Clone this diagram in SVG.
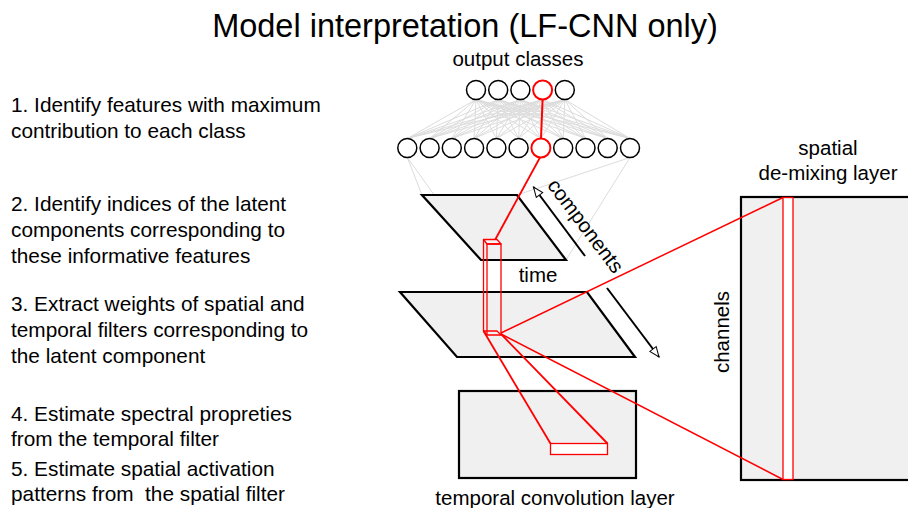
<svg xmlns="http://www.w3.org/2000/svg" width="908" height="508" viewBox="0 0 908 508">
<style>
text{font-family:"Liberation Sans",Arial,sans-serif;fill:#000}
.t{font-size:20.5px}
.s{font-size:20.8px;white-space:pre}
.c{text-anchor:middle}
.fc{stroke:#dcdcdc;stroke-width:1;fill:none}
.nd{fill:#fff;stroke:#000;stroke-width:1.5}
.ndr{fill:#fff;stroke:#f00;stroke-width:2}
.pl{fill:#f0f0f0;stroke:#000;stroke-width:2.2;stroke-linejoin:miter}
.rl{stroke:#f00;stroke-width:1.5;fill:none}
.rb{stroke:#f00;stroke-width:1.3;fill:#fff}
.ar{stroke:#000;stroke-width:2;fill:none}
</style>
<defs>
<marker id="oa" viewBox="0 0 12 10" refX="11" refY="5" markerWidth="12" markerHeight="10" markerUnits="userSpaceOnUse" orient="auto">
<path d="M1,1 L11,5 L1,9 Z" fill="#fff" stroke="#000" stroke-width="1"/>
</marker>
</defs>

<text x="465" y="37" class="c" style="font-size:32.5px">Model interpretation (LF-CNN only)</text>

<g id="steps">
<text class="s" x="11" y="112">1. Identify features with maximum</text>
<text class="s" x="11" y="138">contribution to each class</text>
<text class="s" x="11" y="211">2. Identify indices of the latent</text>
<text class="s" x="11" y="237">components corresponding to</text>
<text class="s" x="11" y="263">these informative features</text>
<text class="s" x="11" y="311">3. Extract weights of spatial and</text>
<text class="s" x="11" y="337">temporal filters corresponding to</text>
<text class="s" x="11" y="363">the latent component</text>
<text class="s" x="11" y="421">4. Estimate spectral propreties</text>
<text class="s" x="11" y="446">from the temporal filter</text>
<text class="s" x="11" y="476">5. Estimate spatial activation</text>
<text class="s" x="11" y="501">patterns from  the spatial filter</text>
</g>

<g id="connectors">
<g class="fc">
<path d="M476,99.5 L407.3,138.5 M476,99.5 L429.6,138.5 M476,99.5 L451.8,138.5 M476,99.5 L474.1,138.5 M476,99.5 L496.4,138.5 M476,99.5 L518.6,138.5 M476,99.5 L540.9,138.5 M476,99.5 L563.2,138.5 M476,99.5 L585.5,138.5 M476,99.5 L607.7,138.5 M476,99.5 L630,138.5"/>
<path d="M498.2,99.5 L407.3,138.5 M498.2,99.5 L429.6,138.5 M498.2,99.5 L451.8,138.5 M498.2,99.5 L474.1,138.5 M498.2,99.5 L496.4,138.5 M498.2,99.5 L518.6,138.5 M498.2,99.5 L540.9,138.5 M498.2,99.5 L563.2,138.5 M498.2,99.5 L585.5,138.5 M498.2,99.5 L607.7,138.5 M498.2,99.5 L630,138.5"/>
<path d="M520.4,99.5 L407.3,138.5 M520.4,99.5 L429.6,138.5 M520.4,99.5 L451.8,138.5 M520.4,99.5 L474.1,138.5 M520.4,99.5 L496.4,138.5 M520.4,99.5 L518.6,138.5 M520.4,99.5 L540.9,138.5 M520.4,99.5 L563.2,138.5 M520.4,99.5 L585.5,138.5 M520.4,99.5 L607.7,138.5 M520.4,99.5 L630,138.5"/>
<path d="M542.6,99.5 L407.3,138.5 M542.6,99.5 L429.6,138.5 M542.6,99.5 L451.8,138.5 M542.6,99.5 L474.1,138.5 M542.6,99.5 L496.4,138.5 M542.6,99.5 L518.6,138.5 M542.6,99.5 L563.2,138.5 M542.6,99.5 L585.5,138.5 M542.6,99.5 L607.7,138.5 M542.6,99.5 L630,138.5"/>
<path d="M564.8,99.5 L407.3,138.5 M564.8,99.5 L429.6,138.5 M564.8,99.5 L451.8,138.5 M564.8,99.5 L474.1,138.5 M564.8,99.5 L496.4,138.5 M564.8,99.5 L518.6,138.5 M564.8,99.5 L540.9,138.5 M564.8,99.5 L563.2,138.5 M564.8,99.5 L585.5,138.5 M564.8,99.5 L607.7,138.5 M564.8,99.5 L630,138.5"/>
<path d="M407.3,157.5 L422,195 M407.3,157.5 L481,260 M630,157.5 L517,195 M630,157.5 L566,260"/>
</g>
</g>

<g id="output-classes">
<text class="t c" x="518" y="66">output classes</text>
<circle class="nd" cx="476" cy="90" r="9.5"/>
<circle class="nd" cx="498.2" cy="90" r="9.5"/>
<circle class="nd" cx="520.4" cy="90" r="9.5"/>
<circle class="ndr" cx="542.6" cy="90" r="9.5"/>
<circle class="nd" cx="564.8" cy="90" r="9.5"/>
</g>

<g id="features">
<circle class="nd" cx="407.3" cy="148" r="9.5"/>
<circle class="nd" cx="429.6" cy="148" r="9.5"/>
<circle class="nd" cx="451.8" cy="148" r="9.5"/>
<circle class="nd" cx="474.1" cy="148" r="9.5"/>
<circle class="nd" cx="496.4" cy="148" r="9.5"/>
<circle class="nd" cx="518.6" cy="148" r="9.5"/>
<circle class="ndr" cx="540.9" cy="148" r="9.5"/>
<circle class="nd" cx="563.2" cy="148" r="9.5"/>
<circle class="nd" cx="585.5" cy="148" r="9.5"/>
<circle class="nd" cx="607.7" cy="148" r="9.5"/>
<circle class="nd" cx="630" cy="148" r="9.5"/>
</g>

<g id="latent-plane">
<polygon class="pl" points="422,195 517,195 566,260 481,260"/>
</g>

<g id="input-plane">
<polygon class="pl" points="400,292 587,292 635,357 457,357"/>
<text class="t c" x="538" y="282">time</text>
</g>

<g id="axes">
<line class="ar" x1="585" y1="256" x2="533.5" y2="187" marker-end="url(#oa)"/>
<line class="ar" x1="607" y1="288" x2="659" y2="357" marker-end="url(#oa)"/>
<text class="t c" transform="translate(580,230) rotate(53)">components</text>
</g>

<g id="temporal-layer">
<rect class="pl" x="459" y="391" width="177" height="87"/>
<text class="t c" x="555" y="505">temporal convolution layer</text>
</g>

<g id="spatial-layer">
<rect class="pl" x="741" y="197" width="200" height="283"/>
<text class="t c" x="828" y="155">spatial</text>
<text class="t c" x="828" y="180">de-mixing layer</text>
<text class="t c" transform="translate(729,332) rotate(-90)">channels</text>
</g>

<g id="highlight">
<line class="rl" x1="542.6" y1="99.5" x2="541" y2="138.5" style="stroke-width:2"/>
<line class="rl" x1="540" y1="157.5" x2="495" y2="240" style="stroke-width:1.8"/>
<line class="rl" x1="501" y1="333" x2="783" y2="197.5"/>
<line class="rl" x1="501" y1="334" x2="783" y2="479.5"/>
<line class="rl" x1="483.5" y1="331" x2="550.5" y2="443.5" style="stroke-width:1.8"/>
<line class="rl" x1="501" y1="334" x2="607.5" y2="443.5" style="stroke-width:1.8"/>
<rect class="rb" x="550.5" y="443.5" width="57" height="11"/>
<rect class="rb" x="783" y="197.5" width="10" height="282"/>
<g fill="none" stroke="#f00" stroke-width="1.3" stroke-linejoin="round">
<polygon points="483.5,239.5 497,239.5 501,244 487,244" fill="#f4f4f4"/>
<polyline points="483.5,239.5 483.5,331 487,335"/>
<rect x="487" y="244" width="14" height="91"/>
<polyline points="483.5,331 497,331 501,335"/>
</g>
</g>
</svg>
